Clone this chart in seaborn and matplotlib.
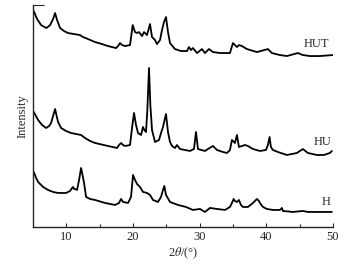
import numpy as np
import pandas as pd
import matplotlib
matplotlib.use('Agg')
import matplotlib.pyplot as plt
import seaborn as sns

# 2theta / intensity (offset stacked, arbitrary units)
hut_2theta = [5.1, 5.6, 6.2, 7.0, 7.55, 8.0, 8.3, 8.6, 9.05, 9.65, 10.25, 11.15, 12.05, 12.5,
              13.25, 14.3, 15.35, 16.25, 17.45, 17.75, 18.05, 18.35, 18.8, 19.55, 19.95, 20.3,
              20.6, 20.9, 21.35, 21.65, 22.1, 22.55, 22.85, 23.3, 23.6, 24.05, 24.35, 24.65,
              24.95, 25.25, 25.55, 26.3, 27.2, 28.1, 28.4, 28.7, 29.0, 29.6, 30.35, 30.8, 31.4,
              32.0, 33.05, 34.55, 35.0, 35.6, 35.9, 36.35, 37.1, 38.6, 40.25, 40.85, 42.05,
              43.1, 44.75, 45.5, 46.55, 48.05, 50.0]
hut_int = [216, 208, 202, 199, 202, 208, 214, 207, 199, 196, 194, 193, 192, 190,
           188, 185, 183, 181, 179, 181, 184, 182, 181, 182, 202, 195,
           194, 195, 191, 195, 192, 203, 190, 187, 183, 187, 197, 205,
           210, 195, 184, 178, 176, 176, 180, 177, 179, 174, 178, 174, 178,
           175, 174, 174, 184, 180, 182, 181, 178, 175, 178, 174, 172,
           171, 174, 172, 171, 171, 172]

hu_2theta = [5.1, 5.75, 6.35, 6.95, 7.4, 7.7, 8.0, 8.3, 8.6, 8.75, 9.2, 9.95, 10.7, 12.2,
             12.8, 13.55, 14.3, 16.25, 17.6, 17.9, 18.2, 18.5, 18.8, 19.55, 19.85, 20.15,
             20.45, 20.75, 21.2, 21.5, 21.7, 21.95, 22.15, 22.4, 22.6, 22.85, 23.3, 23.9,
             24.2, 24.5, 24.95, 25.25, 25.55, 25.85, 26.3, 26.6, 27.05, 28.55, 29.15, 29.45,
             29.75, 30.8, 31.25, 32.0, 32.6, 33.5, 34.1, 34.55, 34.85, 35.3, 35.6, 35.9,
             36.8, 37.25, 38.0, 39.05, 39.95, 40.25, 40.5, 40.7, 41.0, 41.75, 43.1, 44.6,
             45.5, 46.25, 47.6, 48.65, 49.55, 49.85]
hu_int = [115, 107, 102, 99, 101, 104, 111, 118, 109, 105, 99, 96, 94, 92,
          89, 86, 84, 81, 79, 82, 84, 82, 81, 82, 99, 114,
          102, 94, 92, 100, 97, 95, 117, 159, 122, 97, 85, 87,
          94, 100, 113, 95, 85, 81, 79, 82, 78, 76, 78, 95,
          78, 76, 78, 81, 77, 75, 74, 77, 87, 84, 92, 80,
          82, 81, 78, 76, 77, 82, 90, 80, 77, 75, 72, 74,
          78, 74, 72, 72, 74, 76]

h_2theta = [5.1, 5.45, 5.75, 6.5, 7.25, 8.0, 8.75, 9.95, 10.55, 10.85, 11.0, 11.15, 11.3,
            11.6, 11.9, 12.2, 12.45, 12.65, 12.95, 13.55, 14.3, 15.8, 17.3, 17.9, 18.2,
            18.5, 19.25, 19.7, 20.0, 20.3, 20.6, 21.05, 21.5, 22.1, 22.55, 23.0, 23.75,
            24.2, 24.5, 24.7, 24.95, 25.55, 26.75, 27.95, 29.0, 30.05, 30.8, 31.55, 32.6,
            33.8, 34.55, 34.85, 35.1, 35.3, 35.6, 35.9, 36.2, 36.5, 37.25, 38.0, 38.6,
            38.9, 39.05, 39.5, 40.1, 41.0, 42.05, 42.35, 42.5, 44.0, 45.5, 46.25, 48.05, 49.85]
h_int = [55, 49, 45, 40, 37, 35, 34, 34, 36, 39, 40, 38, 38,
         37, 47, 59, 51, 44, 30, 28, 27, 24, 22, 24, 28,
         25, 24, 30, 52, 47, 43, 40, 35, 34, 32, 27, 25,
         30, 37, 41, 32, 25, 22, 20, 17, 18, 15, 19, 18,
         17, 20, 24, 28, 26, 25, 27, 22, 20, 20, 24, 28,
         26, 24, 20, 18, 17, 17, 19, 16, 15, 16, 15, 15, 15]

sample_names = ['HUT', 'HU', 'H']
label_pos = {'HUT': (47.6, 183), 'HU': (48.5, 85), 'H': (49.0, 25)}

df = pd.concat([
    pd.DataFrame({'2theta': hut_2theta, 'intensity': hut_int, 'sample': 'HUT'}),
    pd.DataFrame({'2theta': hu_2theta, 'intensity': hu_int, 'sample': 'HU'}),
    pd.DataFrame({'2theta': h_2theta, 'intensity': h_int, 'sample': 'H'}),
])

sns.set_style('ticks')
plt.rcParams['font.family'] = ['Liberation Serif', 'DejaVu Serif']
plt.rcParams['mathtext.fontset'] = 'stix'

fig = plt.figure(figsize=(3.56, 2.67), dpi=100)
ax = fig.add_axes([0.093, 0.150, 0.842, 0.831])

for name in sample_names:
    sns.lineplot(data=df[df['sample'] == name], x='2theta', y='intensity',
                 color='black', linewidth=1.3, ax=ax, sort=False)
    ax.text(*label_pos[name], name, fontsize=9, ha='center', va='center')

ax.set_xlim(5, 50)
ax.set_ylim(0, 222)
ax.set_xticks([10, 20, 30, 40, 50])
ax.set_xticks([15, 25, 35, 45], minor=True)
ax.set_yticks([222])
ax.set_yticklabels([])
ax.tick_params(axis='x', direction='in', length=3, width=0.8, labelsize=9, pad=3)
ax.tick_params(axis='x', which='minor', direction='in', length=2, width=0.8)
ax.tick_params(axis='y', direction='in', length=8, width=0.8)
sns.despine(ax=ax)
for s in ['left', 'bottom']:
    ax.spines[s].set_linewidth(1.0)

ax.set_xlabel(r'2$\theta$/(°)', fontsize=9, labelpad=2)
ax.set_ylabel('Intensity', fontsize=9, labelpad=0)

fig.savefig('out.png', dpi=100, facecolor='white')
